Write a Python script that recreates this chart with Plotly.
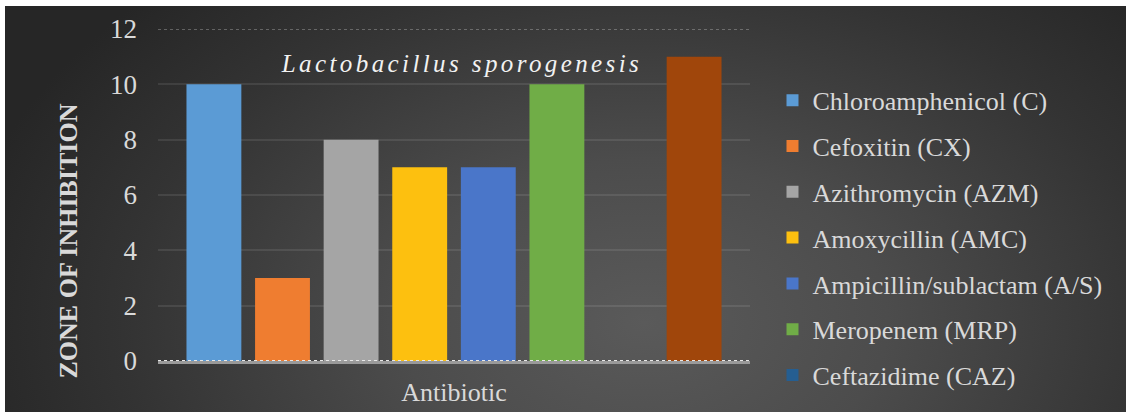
import plotly.graph_objects as go

category = ["Antibiotic"]
series_names = [
    "Chloroamphenicol (C)",
    "Cefoxitin (CX)",
    "Azithromycin (AZM)",
    "Amoxycillin (AMC)",
    "Ampicillin/sublactam (A/S)",
    "Meropenem (MRP)",
    "Ceftazidime (CAZ)",
    "Series 8",
]
zone_values = [10, 3, 8, 7, 7, 10, 0, 11]
series_colors = ["#5b9bd5", "#ef7d30", "#a5a5a5", "#fdc00f", "#4a76c9", "#70ad47", "#255e91", "#a0460b"]
in_legend = [True, True, True, True, True, True, True, False]
y_ticks = [0, 2, 4, 6, 8, 10, 12]

FONT = "Liberation Serif, Times New Roman, serif"
TXT = "#d9d9d9"

fig = go.Figure()
for name, val, col, leg in zip(series_names, zone_values, series_colors, in_legend):
    fig.add_trace(go.Bar(
        x=category, y=[val], name=name,
        marker=dict(color=col, line=dict(width=0)),
        showlegend=leg, legendgroup=name,
    ))

fig.update_layout(
    width=1121, height=406,
    margin=dict(l=153, r=376, t=23, b=51),
    paper_bgcolor="rgba(0,0,0,0)",
    plot_bgcolor="rgba(0,0,0,0)",
    barmode="group",
    bargap=0.073,
    bargroupgap=0.2,
    font=dict(family=FONT, color=TXT, size=26),
    legend=dict(
        x=1.038, xanchor="left", y=0.856, yanchor="top",
        font=dict(family=FONT, size=26, color=TXT),
        tracegroupgap=9, bgcolor="rgba(0,0,0,0)", maxheight=400,
    ),
    xaxis=dict(
        showgrid=False, showline=True, linecolor="#9a9a9a", linewidth=3,
        tickfont=dict(family=FONT, size=26, color=TXT),
        ticks="", ticklabelstandoff=6, automargin=False,
    ),
    yaxis=dict(
        range=[0, max(y_ticks)], tickvals=y_ticks,
        showgrid=True, gridcolor="rgba(255,255,255,0.09)", gridwidth=1.5,
        zeroline=False, showline=False, automargin=False,
        tickfont=dict(family=FONT, size=27, color=TXT),
        ticks="", ticklabelstandoff=20,
    ),
    annotations=[
        dict(text="Lactobacillus sporogenesis", xref="paper", yref="paper",
             x=0.5135, y=0.8946, xanchor="center", yanchor="middle", showarrow=False,
             font=dict(family=FONT, size=25, color="#f2f2f2", style="italic")),
        dict(text="<b>ZONE OF INHIBITION</b>", xref="paper", yref="paper",
             x=-0.152, y=0.36, xanchor="center", yanchor="middle", showarrow=False,
             textangle=-90, font=dict(family=FONT, size=26, color=TXT)),
    ],
    shapes=[
        dict(type="line", xref="paper", yref="y", x0=0, x1=1, y0=max(y_ticks), y1=max(y_ticks),
             line=dict(color="rgba(255,255,255,0.35)", width=1.5, dash="dot"), layer="below"),
        dict(type="line", xref="paper", yref="y", x0=0, x1=1, y0=0, y1=0,
             line=dict(color="#e8e8e8", width=2, dash="dot"), layer="above"),
    ],
)

post = """
document.body.style.margin = '6px 0 0 5px';
var gd = document.getElementById('{plot_id}');
gd.style.background = 'radial-gradient(ellipse 62% 115% at 57% 78%, #5a5a5a 0%, #4c4c4c 35%, #333333 75%, #262626 100%)';
document.querySelectorAll('.annotation-text').forEach(function(t){
  if (t.textContent.indexOf('Lactobacillus') >= 0) { t.style.letterSpacing = '3.4px'; }
});
"""

fig.write_html("out.html", post_script=post)
